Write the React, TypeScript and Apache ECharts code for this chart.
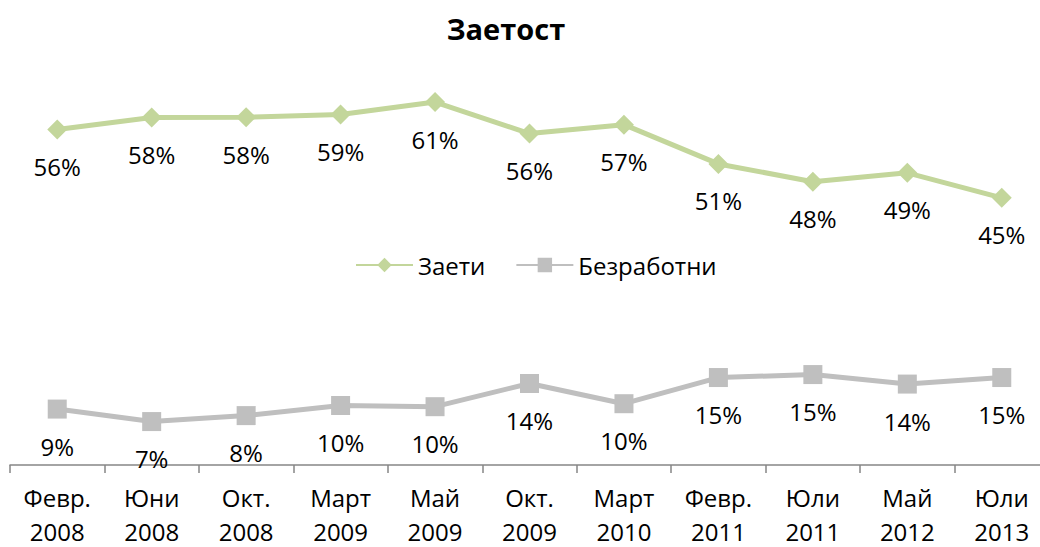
import React, { useEffect, useRef } from "react";
import * as echarts from "echarts";

const categories = [
  "Февр.\n2008", "Юни\n2008", "Окт.\n2008", "Март\n2009", "Май\n2009", "Окт.\n2009",
  "Март\n2010", "Февр.\n2011", "Юли\n2011", "Май\n2012", "Юли\n2013",
];
const employed = [56.4, 58.4, 58.45, 58.9, 61.0, 55.7, 57.2, 50.6, 47.6, 49.1, 44.9];
const unemployed = [9.4, 7.3, 8.3, 10.0, 9.8, 13.7, 10.3, 14.7, 15.2, 13.6, 14.7];
const seriesNames = ["Заети", "Безработни"];
const chartTitle = "Заетост";

const FONT = "'Open Sans', 'Noto Sans', sans-serif";

export default function App() {
  const ref = useRef<HTMLDivElement>(null);
  useEffect(() => {
    if (!ref.current) return;
    const chart = echarts.init(ref.current, undefined, { renderer: "svg" });
    const labelCfg = {
      show: true,
      position: "inside" as const,
      offset: [0, 37],
      fontFamily: FONT,
      fontSize: 24,
      color: "#000",
      formatter: (p: any) => Math.round(p.value) + "%",
    };
    chart.setOption({
      animation: false,
      backgroundColor: "#fff",
      textStyle: { fontFamily: FONT },
      graphic: [
        {
          type: "text",
          x: 506,
          y: 28,
          style: {
            text: chartTitle,
            font: `bold 29px ${FONT}`,
            fill: "#000",
            textAlign: "center",
            textVerticalAlign: "middle",
          },
        },
      ],
      legend: {
        data: seriesNames,
        left: 355,
        top: 251,
        padding: 0,
        itemWidth: 57,
        itemHeight: 18,
        itemGap: 30,
        textStyle: { fontFamily: FONT, fontSize: 24, color: "#000", lineHeight: 28 },
      },
      grid: {
        left: 10,
        width: 1039,
        top: 48.5,
        height: 416.5,
        containLabel: false,
        outerBoundsMode: "none",
      },
      xAxis: {
        type: "category",
        data: categories,
        boundaryGap: true,
        axisLine: { lineStyle: { color: "#868686", width: 1.5 } },
        axisTick: { show: true, interval: 0, length: 8, lineStyle: { color: "#868686", width: 1.5 } },
        axisLabel: {
          interval: 0,
          margin: 9,
          fontFamily: FONT,
          fontSize: 24,
          color: "#000",
          formatter: (v: string) => {
            const parts = v.split("\n");
            return `{a|${parts[0]}}\n{b|${parts[1]}}`;
          },
          rich: {
            a: { fontFamily: FONT, fontSize: 24, lineHeight: 46, color: "#000" },
            b: { fontFamily: FONT, fontSize: 24, lineHeight: 22, color: "#000" },
          },
        },
      },
      yAxis: {
        type: "value",
        min: 0,
        max: 70,
        show: false,
        splitLine: { show: false },
      },
      series: [
        {
          name: seriesNames[0],
          type: "line",
          data: employed,
          symbol: "diamond",
          symbolSize: 20,
          color: "#C3D69B",
          lineStyle: { color: "#C3D69B", width: 5 },
          itemStyle: { color: "#C3D69B" },
          label: labelCfg,
          clip: false,
        },
        {
          name: seriesNames[1],
          type: "line",
          data: unemployed,
          symbol: "rect",
          symbolSize: 19,
          color: "#BFBFBF",
          lineStyle: { color: "#BFBFBF", width: 5 },
          itemStyle: { color: "#BFBFBF" },
          label: labelCfg,
          clip: false,
        },
      ],
    });
    return () => chart.dispose();
  }, []);
  return (
    <div
      ref={ref}
      style={{ position: "fixed", left: 0, top: 0, width: 1040, height: 547, background: "#fff" }}
    />
  );
}
